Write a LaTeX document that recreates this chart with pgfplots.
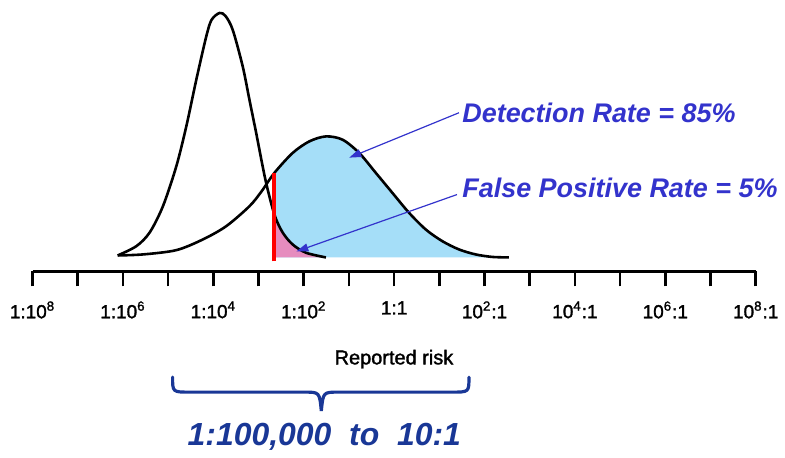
\documentclass[border=0pt]{standalone}
\usepackage{pgfplots}
\pgfplotsset{compat=1.18}
\usepackage{pgfplotstable}
\usepackage{fontspec}
\setmainfont{Liberation Sans}
\newfontfamily\scalefont{Liberation Sans}[FakeBold=1.6]
\usetikzlibrary{arrows.meta}

\definecolor{annblue}{RGB}{51,51,204}
\definecolor{bracenavy}{RGB}{25,55,150}
\definecolor{affcyan}{RGB}{165,222,248}
\definecolor{fppink}{RGB}{230,140,190}

% x: log10 of the reported risk (odds), y: relative density
\pgfplotstableread{
L       y
-6.115  2
-5.702  11.3
-5.408  25
-5.115  51.3
-4.819  91.3
-4.598  131.3
-4.377  178
-4.157  221.3
-4.040  238
-3.863  245
-3.731  242
-3.570  228
-3.349  191.3
-3.201  158
-3.053  125
-2.848  78
-2.649  43
-2.466  25
-2.245  13
-1.949  4.7
-1.508  0
}\unaffected

\pgfplotstableread{
L       y
-6.115  2
-5.556  3
-4.819  7.3
-4.232  18
-3.715  31.3
-3.201  51.3
-2.936  66
-2.649  84.7
-2.245  104.7
-1.876  116.3
-1.508  121.3
-1.141  118
-0.773  104.7
-0.404  84.7
-0.038  64.7
0.331   44.7
0.700   28
1.066   16.3
1.435   8
1.804   3
2.170   0.5
2.539   0
}\affected

\begin{document}
\begin{tikzpicture}
\begin{axis}[
  scale only axis,
  width=392.5pt, height=136pt,
  xmin=-8.7196, xmax=8.6093,
  ymin=-14, ymax=258,
  clip=false,
  axis x line*=bottom, axis y line=none,
  x axis line style={draw=none},
  xtick={-8,...,8},
  xticklabels={1:10\textsuperscript{8},,1:10\textsuperscript{6},,1:10\textsuperscript{4},,1:10\textsuperscript{2},,1:1,,10\textsuperscript{2}:1,,10\textsuperscript{4}:1,,10\textsuperscript{6}:1,,10\textsuperscript{8}:1},
  tick align=outside,
  major tick length=7.5pt,
  xtick style={line width=1.3pt, black},
  xticklabel style={font=\scalefont\fontsize{9.5}{11}\selectfont, yshift=-4pt},
  xlabel={Reported risk},
  xlabel style={at={(axis description cs:0.503,-0.3235)}, anchor=center,
                font=\scalefont\fontsize{10}{12}\selectfont},
]
% shaded tails beyond the cut-off
\addplot[draw=none, fill=affcyan, smooth, restrict x to domain=-2.65:3]
  table[x=L, y=y] {\affected} \closedcycle;
\addplot[draw=none, fill=fppink, smooth, restrict x to domain=-2.65:3]
  table[x=L, y=y] {\unaffected} \closedcycle;

% the two distributions
\addplot[black, line width=1.3pt, smooth] table[x=L, y=y] {\unaffected};
\addplot[black, line width=1.3pt, smooth] table[x=L, y=y] {\affected};

% cut-off
\addplot[red, line width=2pt] coordinates {(-2.649,-4) (-2.649,84.7)};

% axis line between the outer ticks
\draw[line width=1.3pt] (axis cs:-8,-14) -- (axis cs:8,-14);

% annotations
\draw[annblue, line width=0.6pt, -{Triangle[length=6pt, width=4pt]}]
  (axis cs:1.435,145) -- (axis cs:-0.993,100);
\draw[annblue, line width=0.6pt, -{Triangle[length=6pt, width=4pt]}]
  (axis cs:1.391,63) -- (axis cs:-2.163,6);
\node[anchor=west, inner sep=0pt, text=annblue,
      font=\fontsize{13.5}{16}\selectfont\bfseries\itshape]
  at (axis cs:1.501,145) {Detection Rate = 85\%};
\node[anchor=west, inner sep=0pt, text=annblue,
      font=\fontsize{13.5}{16}\selectfont\bfseries\itshape]
  at (axis cs:1.501,70) {False Positive Rate = 5\%};

% screening range
\draw[bracenavy, line width=1.6pt, line cap=round]
  (axis cs:-4.901,-120) .. controls (axis cs:-4.901,-135) .. (axis cs:-4.525,-135)
  -- (axis cs:-1.987,-135) .. controls (axis cs:-1.65,-135) .. (axis cs:-1.611,-154)
  .. controls (axis cs:-1.57,-135) .. (axis cs:-1.236,-135)
  -- (axis cs:1.280,-135) .. controls (axis cs:1.656,-135) .. (axis cs:1.656,-120);
\node[text=bracenavy, font=\fontsize{16}{19}\selectfont\bfseries\itshape]
  at (axis cs:-1.545,-180) {1:100,000~~to~~10:1};

% full extent of the figure
\path (axis cs:-8,258) (axis cs:-8,-195);
\end{axis}
\end{tikzpicture}
\end{document}
